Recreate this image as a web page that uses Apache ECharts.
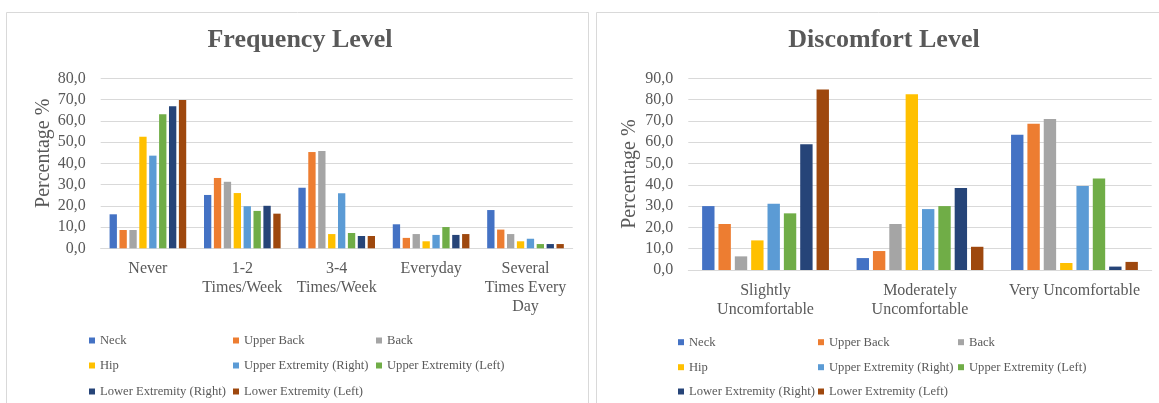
<!DOCTYPE html>
<html>
<head>
<meta charset="utf-8">
<script src="https://cdn.jsdelivr.net/npm/echarts@6/dist/echarts.min.js"></script>
<style>
html,body{margin:0;padding:0;background:#fff;}
#chart{width:1159px;height:403px;}
</style>
</head>
<body>
<div id="chart"></div>
<script>
// ---------- DATA ----------
const freqTitle = 'Frequency Level';
const discTitle = 'Discomfort Level';
const yAxisTitle = 'Percentage %';
const freqCategories = ['Never', '1-2\nTimes/Week', '3-4\nTimes/Week', 'Everyday', 'Several\nTimes Every\nDay'];
const discCategories = ['Slightly\nUncomfortable', 'Moderately\nUncomfortable', 'Very Uncomfortable'];
const seriesNames = ['Neck', 'Upper Back', 'Back', 'Hip', 'Upper Extremity (Right)', 'Upper Extremity (Left)', 'Lower Extremity (Right)', 'Lower Extremity (Left)'];

// Frequency level (%), one array per body region, in freqCategories order
const freqNeck        = [16.0, 25.1, 28.5, 11.3, 18.0];
const freqUpperBack   = [8.6, 33.1, 45.3, 4.9, 8.8];
const freqBack        = [8.6, 31.3, 45.8, 6.7, 6.7];
const freqHip         = [52.5, 26.0, 6.7, 3.3, 3.3];
const freqUpperExtR   = [43.6, 19.8, 25.9, 6.3, 4.5];
const freqUpperExtL   = [63.1, 17.6, 7.2, 10.0, 2.0];
const freqLowerExtR   = [66.8, 20.0, 5.8, 6.3, 2.0];
const freqLowerExtL   = [69.8, 16.3, 5.8, 6.7, 2.0];

// Discomfort level (%), one array per body region, in discCategories order
const discNeck        = [30.0, 5.6, 63.5];
const discUpperBack   = [21.6, 8.9, 68.7];
const discBack        = [6.4, 21.6, 70.9];
const discHip         = [13.9, 82.5, 3.3];
const discUpperExtR   = [31.1, 28.6, 39.4];
const discUpperExtL   = [26.6, 30.0, 43.0];
const discLowerExtR   = [59.0, 38.5, 1.6];
const discLowerExtL   = [84.8, 10.9, 3.8];

const freqMax = 80, discMax = 90, tickStep = 10;

// ---------- STYLE ----------
const palette = ['#4472C4', '#ED7D31', '#A5A5A5', '#FFC000', '#5B9BD5', '#70AD47', '#264478', '#9E480E'];
const FONT = '"Liberation Serif", "Times New Roman", serif';
const TXT = '#595959';
const GRIDC = '#d9d9d9';

const freqData = [freqNeck, freqUpperBack, freqBack, freqHip, freqUpperExtR, freqUpperExtL, freqLowerExtR, freqLowerExtL];
const discData = [discNeck, discUpperBack, discBack, discHip, discUpperExtR, discUpperExtL, discLowerExtR, discLowerExtL];

const fmt = v => v.toFixed(1).replace('.', ',');

function xAxisCfg(cats, gridIndex) {
  return {
    type: 'category', gridIndex, data: cats,
    axisLine: { lineStyle: { color: GRIDC, width: 1 } },
    axisTick: { show: false },
    axisLabel: { color: TXT, fontFamily: FONT, fontSize: 16, lineHeight: 19, margin: 11, interval: 0 }
  };
}
function yAxisCfg(max, gridIndex, gap, pad) {
  return {
    type: 'value', gridIndex, min: 0, max, interval: tickStep,
    name: yAxisTitle, nameLocation: 'middle', nameGap: gap,
    nameTextStyle: { color: TXT, fontFamily: FONT, fontSize: 20, padding: pad },
    axisLine: { show: false }, axisTick: { show: false },
    axisLabel: { color: TXT, fontFamily: FONT, fontSize: 16, margin: 15, formatter: fmt },
    splitLine: { lineStyle: { color: GRIDC, width: 1 } }
  };
}

const series = [];
seriesNames.forEach((n, i) => {
  series.push({ name: n, type: 'bar', xAxisIndex: 0, yAxisIndex: 0, data: freqData[i],
    itemStyle: { color: palette[i] }, barGap: '35%', barCategoryGap: '18.8%', animation: false });
});
seriesNames.forEach((n, i) => {
  series.push({ name: n, type: 'bar', xAxisIndex: 1, yAxisIndex: 1, data: discData[i],
    itemStyle: { color: palette[i] }, barGap: '32%', barCategoryGap: '17.9%', animation: false });
});

function legends(colX, rowY) {
  return seriesNames.map((n, i) => ({
    data: [n], left: colX[i % 3], top: rowY[Math.floor(i / 3)] - 6,
    padding: 0, itemWidth: 6, itemHeight: 6, icon: 'rect', selectedMode: false,
    textStyle: { color: TXT, fontFamily: FONT, fontSize: 12.6 }
  }));
}

const option = {
  backgroundColor: '#fff',
  animation: false,
  title: [
    { text: freqTitle, left: 300, top: 27, textAlign: 'center', padding: 0,
      textStyle: { fontFamily: FONT, fontWeight: 'bold', fontSize: 26, color: TXT } },
    { text: discTitle, left: 884, top: 27, textAlign: 'center', padding: 0,
      textStyle: { fontFamily: FONT, fontWeight: 'bold', fontSize: 26, color: TXT } }
  ],
  grid: [
    { left: 100.7, top: 78.3, width: 472, height: 170 },
    { left: 688.3, top: 78.3, width: 463.4, height: 191.7 }
  ],
  xAxis: [xAxisCfg(freqCategories, 0), xAxisCfg(discCategories, 1)],
  yAxis: [yAxisCfg(freqMax, 0, 45, [0, 0, 0, 20]), yAxisCfg(discMax, 1, 49, 0)],
  legend: legends([89, 233, 376], [340, 365, 391]).concat(legends([678, 818, 958], [341.7, 366.7, 391])),
  graphic: [
    { type: 'rect', shape: { x: 6.5, y: 12.5, width: 582, height: 420 },
      style: { fill: null, stroke: GRIDC, lineWidth: 1 }, silent: true },
    { type: 'rect', shape: { x: 596.5, y: 12.5, width: 600, height: 420 },
      style: { fill: null, stroke: GRIDC, lineWidth: 1 }, silent: true }
  ],
  series
};

const chart = echarts.init(document.getElementById('chart'), null, { renderer: 'canvas' });
chart.setOption(option);
</script>
</body>
</html>
